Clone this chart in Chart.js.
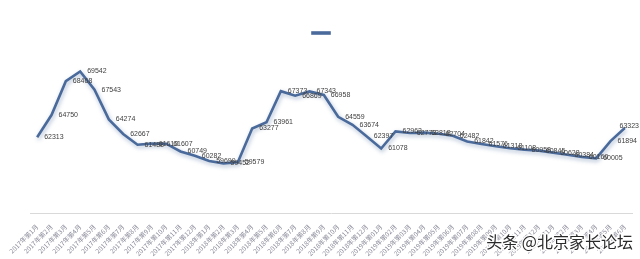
<!DOCTYPE html>
<html>
<head>
<meta charset="utf-8">
<script src="https://cdn.jsdelivr.net/npm/chart.js@4/dist/chart.umd.min.js"></script>
<style>
  html, body { margin: 0; padding: 0; background: #ffffff; }
  #wrap { width: 640px; height: 259px; position: relative; }
</style>
</head>
<body>
<div id="wrap"><canvas id="c"></canvas></div>
<script>
const categories = [
  "2017年第1月","2017年第2月","2017年第3月","2017年第4月","2017年第5月","2017年第6月",
  "2017年第7月","2017年第8月","2017年第9月","2017年第10月","2017年第11月","2017年第12月",
  "2018年第1月","2018年第2月","2018年第3月","2018年第4月","2018年第5月","2018年第6月",
  "2018年第7月","2018年第8月","2018年第9月","2018年第10月","2018年第11月","2018年第12月",
  "2019年第01月","2019年第02月","2019年第03月","2019年第04月","2019年第05月","2019年第06月",
  "2019年第07月","2019年第08月","2019年第09月","2019年第10月","2019年第11月","2019年第12月",
  "2020年第1月","2020年第2月","2020年第3月","2020年第4月","2020年第5月","2020年第6月"
];
const values2017 = [62313, 64750, 68468, 69542, 67543, 64274, 62667, 61488, 61610, 61607, 60749, 60282];
const values2018 = [59699, 59452, 59579, 63277, 63961, 67373, 66869, 67343, 66958, 64559, 63674, 62397];
const values2019 = [61078, 62963, 62773, 62818, 62704, 62482, 61842, 61576, 61318, 61108, 60958, 60845];
const values2020 = [60628, 60384, 60160, 60005, 61894, 63323];
const seriesValues = [].concat(values2017, values2018, values2019, values2020);
const yMin = 54000, yMax = 72000;
const watermark = "头条 @北京家长论坛";

const lineColor = "#4a6a9b";

const shadowPlugin = {
  id: "shadow",
  beforeDatasetDraw(chart) {
    const ctx = chart.ctx;
    ctx.save();
    ctx.shadowColor = "rgba(74,106,155,0.45)";
    ctx.shadowBlur = 4;
    ctx.shadowOffsetX = 1;
    ctx.shadowOffsetY = 2;
  },
  afterDatasetDraw(chart) {
    chart.ctx.restore();
  }
};

const labelPlugin = {
  id: "valueLabels",
  afterDatasetsDraw(chart) {
    const ctx = chart.ctx;
    const meta = chart.getDatasetMeta(0);
    const data = chart.data.datasets[0].data;
    ctx.save();
    ctx.font = '7px "Liberation Sans", Arial, sans-serif';
    ctx.fillStyle = "#404040";
    ctx.textBaseline = "middle";
    ctx.textAlign = "left";
    meta.data.forEach((pt, i) => {
      const txt = String(data[i]);
      const w = ctx.measureText(txt).width;
      let x = pt.x + 7;
      let y = pt.y;
      if (x + w > chart.width - 1) { x = chart.width - 1 - w; y = pt.y - 2; }
      ctx.fillText(txt, x, y);
    });
    ctx.restore();
  }
};

const watermarkPlugin = {
  id: "watermark",
  afterDraw(chart) {
    const ctx = chart.ctx;
    ctx.save();
    ctx.font = '16px "Noto Sans CJK SC", sans-serif';
    ctx.textAlign = "right";
    ctx.textBaseline = "middle";
    ctx.lineJoin = "round";
    ctx.strokeStyle = "rgba(255,255,255,0.95)";
    ctx.lineWidth = 3;
    ctx.strokeText(watermark, 633, 242);
    ctx.fillStyle = "#2a2a2a";
    ctx.fillText(watermark, 633, 242);
    ctx.restore();
  }
};

new Chart(document.getElementById("c"), {
  type: "line",
  data: {
    labels: categories,
    datasets: [{
      label: "",
      data: seriesValues,
      borderColor: lineColor,
      backgroundColor: lineColor,
      borderWidth: 2.6,
      pointRadius: 0,
      tension: 0,
      fill: false
    }]
  },
  options: {
    responsive: true,
    maintainAspectRatio: false,
    animation: false,
    layout: { padding: { top: 17, left: 16, right: 8, bottom: 0 } },
    plugins: {
      legend: {
        display: true,
        position: "top",
        labels: { boxWidth: 17, boxHeight: 1, font: { size: 12 }, padding: 10 }
      },
      tooltip: { enabled: false }
    },
    scales: {
      x: {
        offset: true,
        grid: { display: false },
        border: { display: true, color: "#d9d9d9", width: 1 },
        afterFit(scale) { scale.height = 46; },
        ticks: {
          autoSkip: false,
          maxRotation: 45,
          minRotation: 45,
          padding: 2,
          color: "#8a8a9a",
          font: { size: 6.5, family: '"Noto Sans CJK SC", sans-serif' }
        }
      },
      y: {
        display: true,
        min: yMin,
        max: yMax,
        grid: { display: false },
        border: { display: false },
        ticks: { display: false },
        afterFit(scale) { scale.width = 14; }
      }
    }
  },
  plugins: [shadowPlugin, labelPlugin, watermarkPlugin]
});
</script>
</body>
</html>
